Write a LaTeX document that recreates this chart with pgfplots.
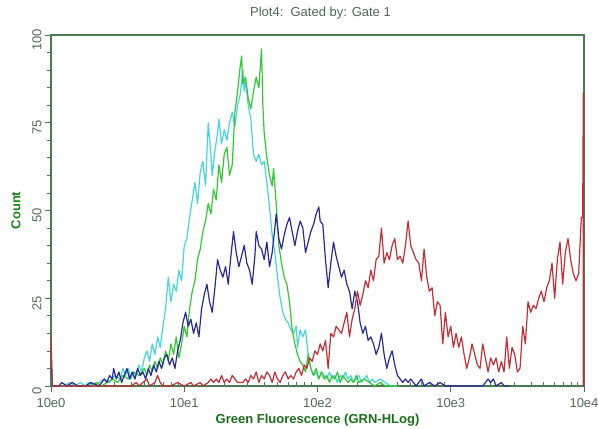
\documentclass[border=0pt]{standalone}
\usepackage{pgfplots}
\pgfplotsset{compat=1.18}
\usepackage{fontspec}
\setmainfont{Liberation Sans}

\definecolor{frame}{RGB}{74,122,80}
\definecolor{ticktext}{RGB}{80,105,85}
\definecolor{labelgreen}{RGB}{30,130,30}
\definecolor{cgreen}{RGB}{50,200,50}
\definecolor{ccyan}{RGB}{70,212,222}
\definecolor{cblue}{RGB}{40,40,150}
\definecolor{cred}{RGB}{196,45,52}

\begin{document}
\begin{tikzpicture}
\useasboundingbox (-51pt,-43pt) rectangle (547pt,386pt);
\begin{axis}[
    at={(0,0)}, anchor=south west,
    scale only axis, width=533pt, height=351pt,
    xmin=0, xmax=4, ymin=0, ymax=100,
    axis line style={frame, line width=1.6pt},
    xtick={0,1,2,3,4},
    xticklabels={10e0,10e1,10e2,10e3,10e4},
    minor xtick={0.301,0.477,0.602,0.699,0.778,0.845,0.903,0.954,
                 1.301,1.477,1.602,1.699,1.778,1.845,1.903,1.954,
                 2.301,2.477,2.602,2.699,2.778,2.845,2.903,2.954,
                 3.301,3.477,3.602,3.699,3.778,3.845,3.903,3.954},
    ytick={0,25,50,75,100},
    minor ytick={5,10,15,20,30,35,40,45,55,60,65,70,80,85,90,95},
    tick align=outside,
    xtick pos=bottom, ytick pos=left,
    major tick length=6pt, minor tick length=4pt,
    every tick/.style={frame, line width=0.8pt},
    minor x tick style={yshift=4pt},
    /pgf/number format/assume math mode=true,
    tick label style={font=\fontsize{13}{15}\selectfont, text=ticktext},
    yticklabel style={rotate=90, anchor=south, xshift=-5pt},
    xticklabel style={yshift=-3pt},
    title={Plot4:\ \ Gated by: Gate 1},
    title style={font=\fontsize{13}{15}\selectfont, text=ticktext,
                 at={(axis description cs:0.5,1)}, anchor=center, yshift=16pt, xshift=3pt},
    xlabel={Green Fluorescence (GRN-HLog)},
    xlabel style={font=\fontsize{13}{15}\selectfont\bfseries, text=labelgreen!85!black,
                  at={(axis description cs:0.5,0)}, anchor=center, yshift=-34pt},
    ylabel={Count},
    ylabel style={font=\fontsize{13}{15}\selectfont\bfseries, text=labelgreen,
                  at={(axis description cs:-0.066,0.5)}, anchor=center},
    every axis plot/.append style={line width=1.2pt, sharp plot, line join=round},
]
% cyan
\addplot[ccyan] coordinates {
(0.00,3) (0.01,0) (0.10,0) (0.14,1) (0.18,0) (0.22,1) (0.26,0) (0.28,1) (0.32,0) (0.36,1)
(0.40,2) (0.44,1) (0.48,3) (0.52,2) (0.54,5) (0.56,3) (0.58,5) (0.60,2) (0.62,4) (0.64,3)
(0.66,6) (0.68,4) (0.70,8) (0.72,10) (0.74,7) (0.76,12) (0.78,9) (0.80,14) (0.82,11) (0.84,17)
(0.86,22) (0.88,31) (0.90,24) (0.92,29) (0.94,27) (0.96,33) (0.98,30) (1.00,40) (1.02,42) (1.04,48)
(1.06,53) (1.08,58) (1.10,52) (1.12,61) (1.14,64) (1.16,57) (1.18,75) (1.20,66) (1.21,60) (1.23,67)
(1.25,72) (1.26,76) (1.28,69) (1.30,73) (1.32,70) (1.34,75) (1.36,78) (1.38,74) (1.40,80) (1.42,83)
(1.44,90) (1.45,84) (1.46,87) (1.48,80) (1.50,76) (1.52,66) (1.54,64) (1.56,66) (1.58,63) (1.60,64)
(1.62,58) (1.64,51) (1.66,43) (1.68,38) (1.70,31) (1.72,25) (1.74,21) (1.76,19) (1.78,18) (1.80,16)
(1.82,15) (1.84,17) (1.85,11) (1.87,16) (1.89,14) (1.91,16) (1.93,9) (1.95,5) (1.97,3) (1.99,4)
(2.01,2) (2.03,4) (2.05,3) (2.07,2) (2.09,4) (2.11,2) (2.13,3) (2.15,1) (2.17,3) (2.19,2)
(2.21,4) (2.23,2) (2.25,3) (2.27,1) (2.29,2) (2.31,3) (2.33,1) (2.35,2) (2.37,3) (2.39,1)
(2.41,2) (2.43,1) (2.47,2) (2.51,1) (2.55,0) (2.60,0)
};
% green
\addplot[cgreen] coordinates {
(0.30,0) (0.34,1) (0.38,0) (0.42,1) (0.46,2) (0.50,1) (0.54,3) (0.58,2) (0.62,4) (0.66,3)
(0.70,5) (0.72,3) (0.74,6) (0.76,4) (0.78,7) (0.80,5) (0.82,8) (0.84,6) (0.86,10) (0.88,7)
(0.90,12) (0.92,9) (0.94,14) (0.96,8) (0.98,12) (1.00,17) (1.02,14) (1.04,22) (1.06,27) (1.08,30)
(1.10,36) (1.12,39) (1.14,44) (1.16,47) (1.18,52) (1.20,49) (1.22,56) (1.24,53) (1.26,63) (1.28,58)
(1.30,66) (1.32,68) (1.34,60) (1.36,63) (1.38,78) (1.40,84) (1.42,91) (1.43,94) (1.44,86) (1.46,88)
(1.48,82) (1.50,79) (1.52,84) (1.54,88) (1.56,85) (1.58,96) (1.59,80) (1.60,72) (1.62,65) (1.64,60)
(1.66,57) (1.67,62) (1.69,52) (1.71,40) (1.73,35) (1.75,31) (1.77,29) (1.79,24) (1.81,16) (1.83,12)
(1.85,9) (1.87,7) (1.89,6) (1.91,4) (1.93,9) (1.95,5) (1.97,3) (1.99,5) (2.01,2) (2.03,4)
(2.05,2) (2.07,3) (2.09,1) (2.11,3) (2.13,2) (2.15,4) (2.17,1) (2.19,3) (2.21,2) (2.23,1)
(2.25,2) (2.27,1) (2.29,3) (2.31,1) (2.35,2) (2.39,1) (2.43,0) (2.47,1) (2.51,0) (2.60,0)
};
% blue
\addplot[cblue] coordinates {
(0.00,10) (0.01,0) (0.06,0) (0.08,1) (0.12,0) (0.16,1) (0.20,0) (0.26,0) (0.30,1) (0.36,0)
(0.40,2) (0.42,1) (0.44,3) (0.46,2) (0.47,5) (0.49,2) (0.51,4) (0.53,1) (0.55,3) (0.57,5)
(0.59,2) (0.61,4) (0.63,2) (0.65,5) (0.67,3) (0.69,4) (0.71,2) (0.73,5) (0.75,3) (0.77,6)
(0.79,4) (0.81,7) (0.83,5) (0.85,8) (0.87,9) (0.89,6) (0.91,8) (0.93,5) (0.95,10) (0.97,13)
(0.99,18) (1.01,21) (1.03,17) (1.05,19) (1.07,15) (1.09,18) (1.11,14) (1.13,22) (1.15,26) (1.17,29)
(1.19,24) (1.21,21) (1.23,28) (1.25,36) (1.27,33) (1.29,31) (1.31,34) (1.33,29) (1.35,37) (1.37,44)
(1.39,38) (1.41,34) (1.43,37) (1.45,40) (1.47,35) (1.49,33) (1.51,29) (1.53,37) (1.54,44) (1.56,40)
(1.58,39) (1.60,36) (1.62,41) (1.64,34) (1.66,38) (1.68,45) (1.69,49) (1.71,42) (1.73,39) (1.75,43)
(1.77,46) (1.79,48) (1.81,44) (1.83,40) (1.85,44) (1.87,47) (1.89,45) (1.91,38) (1.93,41) (1.95,44)
(1.97,46) (1.99,49) (2.01,51) (2.02,47) (2.04,46) (2.06,36) (2.08,28) (2.10,35) (2.12,41) (2.14,37)
(2.16,34) (2.18,31) (2.20,33) (2.22,29) (2.24,27) (2.26,22) (2.28,27) (2.30,24) (2.32,18) (2.34,15)
(2.36,17) (2.38,13) (2.40,14) (2.42,12) (2.44,9) (2.46,11) (2.48,15) (2.50,9) (2.52,5) (2.54,8)
(2.56,10) (2.58,6) (2.60,3) (2.62,2) (2.64,1) (2.66,2) (2.68,1) (2.70,2) (2.72,1) (2.74,0)
(2.76,1) (2.78,2) (2.80,0) (2.84,1) (2.88,0) (2.92,1) (2.96,0) (3.00,0) (3.24,0) (3.26,1)
(3.28,2) (3.30,1) (3.32,2) (3.34,0) (3.38,1) (3.40,0) (3.44,0)
};
% red
\addplot[cred] coordinates {
(0.00,14.5) (0.01,0) (0.60,0) (0.64,1) (0.66,0) (0.72,2) (0.74,0) (0.78,1) (0.80,3) (0.82,1)
(0.84,0) (0.90,0) (0.95,1) (1.00,0) (1.05,1) (1.07,0) (1.12,1) (1.14,0) (1.18,1) (1.20,2)
(1.22,1) (1.24,2) (1.26,1) (1.28,3) (1.30,1) (1.32,2) (1.34,1) (1.36,3) (1.38,2) (1.40,1)
(1.44,1) (1.46,2) (1.48,1) (1.50,3) (1.52,2) (1.54,4) (1.56,1) (1.58,3) (1.60,2) (1.62,4)
(1.64,3) (1.66,1) (1.68,4) (1.70,2) (1.72,1) (1.74,3) (1.76,4) (1.78,2) (1.80,3) (1.82,2)
(1.84,4) (1.86,5) (1.88,3) (1.90,6) (1.92,5) (1.94,8) (1.96,7) (1.98,10) (2.00,9) (2.02,12)
(2.04,10) (2.06,13) (2.08,5) (2.10,15) (2.12,14) (2.14,17) (2.16,16) (2.18,15) (2.20,18) (2.22,21)
(2.24,14) (2.26,19) (2.28,22) (2.30,27) (2.32,23) (2.34,26) (2.36,30) (2.38,28) (2.40,33) (2.42,30)
(2.44,36) (2.46,37) (2.48,45) (2.50,35) (2.52,38) (2.54,36) (2.56,40) (2.58,42) (2.60,36) (2.62,37)
(2.64,35) (2.66,40) (2.68,47) (2.70,40) (2.72,38) (2.74,36) (2.76,35) (2.78,30) (2.80,39) (2.82,31)
(2.84,27) (2.86,28) (2.88,20) (2.90,24) (2.92,23) (2.94,12) (2.96,21) (2.98,14) (3.00,17) (3.02,11)
(3.04,15) (3.06,11) (3.08,14) (3.10,9) (3.12,5) (3.14,8) (3.16,12) (3.18,9) (3.20,6) (3.22,5)
(3.24,12) (3.26,8) (3.28,4) (3.30,8) (3.32,6) (3.34,8) (3.36,4) (3.38,7) (3.40,4) (3.42,14)
(3.44,5) (3.46,11) (3.48,9) (3.50,4) (3.52,5) (3.54,17) (3.56,12) (3.58,24) (3.60,21) (3.62,23)
(3.64,22) (3.66,25) (3.68,27) (3.70,24) (3.72,28) (3.74,30) (3.76,35) (3.78,25) (3.80,36) (3.82,41)
(3.84,29) (3.86,38) (3.88,42) (3.90,36) (3.92,32) (3.94,30) (3.96,32) (3.98,48) (3.99,48) (3.995,83.5)
(3.995,0)
};
\end{axis}
\end{tikzpicture}
\end{document}
